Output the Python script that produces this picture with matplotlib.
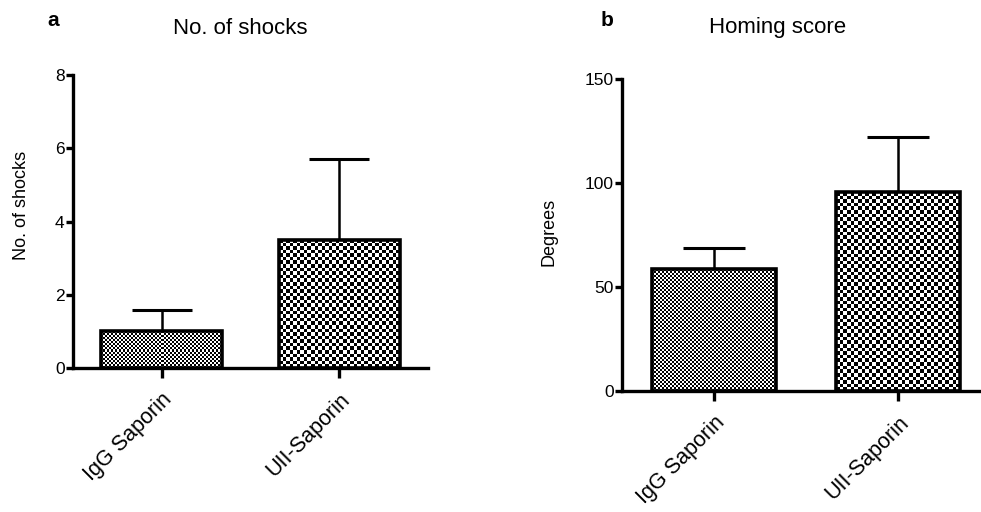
import numpy as np
import matplotlib
matplotlib.use("Agg")
import matplotlib.pyplot as plt

categories = ["IgG Saporin", "UII-Saporin"]
shocks_mean = [1.0, 3.5]
shocks_err = [0.57, 2.2]
homing_mean = [58.6, 95.5]
homing_err = [10.2, 26.5]
shocks_ticks = [0, 2, 4, 6, 8]
homing_ticks = [0, 50, 100, 150]

font = "Liberation Sans"

W, H, DPI = 981, 512, 100
fig = plt.figure(figsize=(W / DPI, H / DPI), dpi=DPI)

cell_px = [2, 3.6]


def checker_fill(ax, fig, bar, cell):
    fig.canvas.draw()
    x0, y0 = bar.get_x(), bar.get_y()
    w, h = bar.get_width(), bar.get_height()
    p0 = ax.transData.transform((x0, y0))
    p1 = ax.transData.transform((x0 + w, y0 + h))
    nx = max(1, int(round(abs(p1[0] - p0[0]) / cell)))
    ny = max(1, int(round(abs(p1[1] - p0[1]) / cell)))
    ii, jj = np.indices((ny, nx))
    img = ((ii + jj) % 2).astype(float)
    im = ax.imshow(img, extent=(x0, x0 + w, y0, y0 + h), cmap="gray",
                   vmin=0, vmax=1, interpolation="nearest", aspect="auto",
                   zorder=1)
    im.set_clip_path(bar)


def panel(rect, means, errs, yticks, ylabel, ylabel_xy, title, letter,
          letter_xy, title_xy, barw):
    ax = fig.add_axes(rect)
    x = np.arange(len(categories))
    bars = ax.bar(x, means, width=barw, color="white", edgecolor="black",
                  linewidth=2.6, zorder=2)
    for b in bars:
        b.set_facecolor("none")
    ax.set_xlim(-0.5, 1.5)
    ax.set_ylim(yticks[0], yticks[-1])
    for i, b in enumerate(bars):
        checker_fill(ax, fig, b, cell_px[i])
    tops = [m + e for m, e in zip(means, errs)]
    ax.vlines(x, means, tops, color="black", linewidth=1.8, zorder=3)
    ax.hlines(tops, x - barw / 4, x + barw / 4, color="black", linewidth=2.2, zorder=3)
    for s in ["top", "right"]:
        ax.spines[s].set_visible(False)
    for s in ["left", "bottom"]:
        ax.spines[s].set_linewidth(2.4)
    ax.set_xticks(x)
    ax.set_xticklabels(categories, rotation=45, ha="right", rotation_mode="anchor",
                       fontsize=15.5, family=font)
    ax.set_yticks(yticks)
    ax.set_yticklabels([str(t) for t in yticks], fontsize=12.5, family=font)
    ax.tick_params(axis="y", length=5, width=2.4, pad=1)
    ax.tick_params(axis="x", length=7, width=2.4, pad=8)
    ax.set_ylabel(ylabel, fontsize=13, family=font)
    ax.yaxis.set_label_coords(*ylabel_xy)
    fig.text(title_xy[0], title_xy[1], title, fontsize=16, family=font,
             ha="center", va="center")
    fig.text(letter_xy[0], letter_xy[1], letter, fontsize=15, family=font,
             weight="bold", ha="center", va="center")
    return ax


axA = panel([73 / W, 1 - 368 / H, 355 / W, 293 / H], shocks_mean, shocks_err,
            shocks_ticks, "No. of shocks", (-0.12, 0.556), "No. of shocks", "a",
            (53 / W, 1 - 20 / H), (240 / W, 1 - 28 / H), 0.68)
axB = panel([622 / W, 1 - 391 / H, 368 / W, 312 / H], homing_mean, homing_err,
            homing_ticks, "Degrees", (-0.175, 0.51), "Homing score", "b",
            (607 / W, 1 - 20 / H), (778 / W, 1 - 28 / H), 0.67)

fig.savefig("out.png", dpi=DPI)
